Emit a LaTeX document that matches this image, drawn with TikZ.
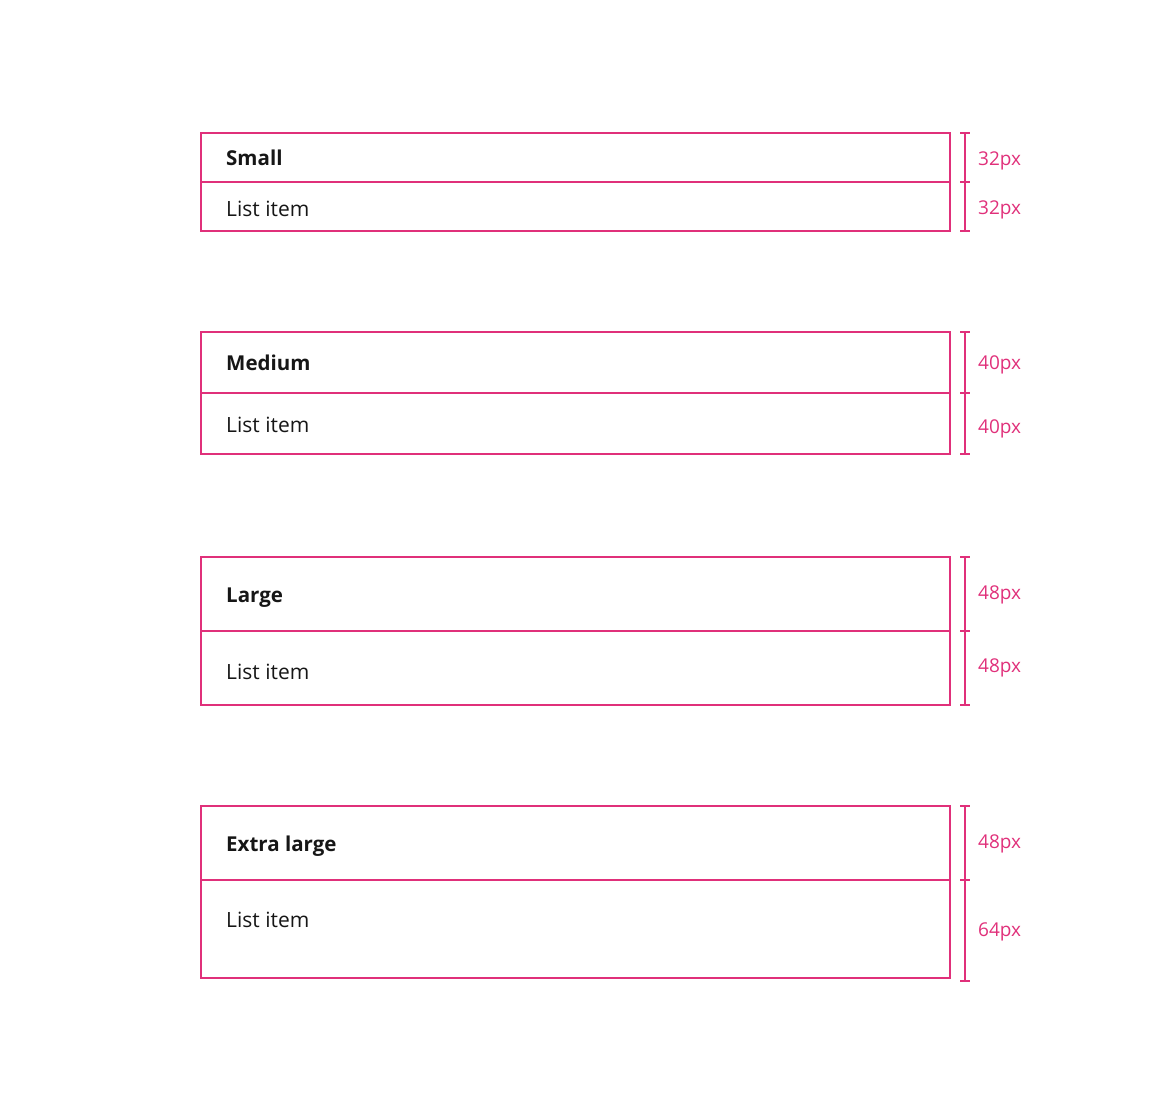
\documentclass[tikz,border=0pt]{standalone}
\usepackage{fontspec}
\setmainfont{Open Sans}
\definecolor{mag}{RGB}{224,48,122}
\definecolor{ink}{RGB}{22,22,22}
\begin{document}
\begin{tikzpicture}[x=1pt,y=-1pt,
  row/.style={draw=mag,line width=1.5pt,minimum width=749pt,inner sep=0pt,outer sep=0pt,anchor=north west},
  ttl/.style={anchor=west,font=\fontsize{20.5}{24}\selectfont\bfseries,text=ink,inner sep=0pt,yshift=-1pt},
  itm/.style={anchor=west,font=\fontsize{21}{24}\selectfont,text=ink,inner sep=0pt,yshift=-1pt},
  dim/.style={draw=mag,line width=1.5pt},
  dlab/.style={anchor=west,font=\fontsize{19}{22}\selectfont,text=mag,inner sep=0pt,yshift=-2pt}]
\useasboundingbox (0,0) rectangle (1152,1097);
% Small
\node[row,minimum height=49pt] (sa) at (201,133) {};
\node[row,minimum height=49pt] (sb) at (201,182) {};
\node[ttl] (st) at (226,157) {Small};
\node[itm] (si) at (226,208) {List item};
\coordinate (s0) at (965,133); \coordinate (s1) at (965,182); \coordinate (s2) at (965,231);
\draw[dim] (s0) -- (s2);
\foreach \p in {s0,s1,s2} \draw[dim] ([xshift=-5pt]\p) -- ([xshift=5pt]\p);
\node[dlab] (sl1) at (978,159) {32px};
\node[dlab] (sl2) at (978,208) {32px};
% Medium
\node[row,minimum height=61pt] (ma) at (201,332) {};
\node[row,minimum height=61pt] (mb) at (201,393) {};
\node[ttl] (mt) at (226,362) {Medium};
\node[itm] (mi) at (226,424) {List item};
\coordinate (m0) at (965,332); \coordinate (m1) at (965,393); \coordinate (m2) at (965,454);
\draw[dim] (m0) -- (m2);
\foreach \p in {m0,m1,m2} \draw[dim] ([xshift=-5pt]\p) -- ([xshift=5pt]\p);
\node[dlab] (ml1) at (978,363) {40px};
\node[dlab] (ml2) at (978,427) {40px};
% Large
\node[row,minimum height=74pt] (la) at (201,557) {};
\node[row,minimum height=74pt] (lb) at (201,631) {};
\node[ttl] (lt) at (226,597) {Large};
\node[itm] (li) at (226,671) {List item};
\coordinate (l0) at (965,557); \coordinate (l1) at (965,631); \coordinate (l2) at (965,705);
\draw[dim] (l0) -- (l2);
\foreach \p in {l0,l1,l2} \draw[dim] ([xshift=-5pt]\p) -- ([xshift=5pt]\p);
\node[dlab] (ll1) at (978,593) {48px};
\node[dlab] (ll2) at (978,666) {48px};
% Extra large
\node[row,minimum height=74pt] (xa) at (201,806) {};
\node[row,minimum height=98pt] (xb) at (201,880) {};
\node[ttl] (xt) at (226,845) {Extra large};
\node[itm] (xi) at (226,919) {List item};
\coordinate (x0) at (965,806); \coordinate (x1) at (965,880); \coordinate (x2) at (965,981);
\draw[dim] (x0) -- (x2);
\foreach \p in {x0,x1,x2} \draw[dim] ([xshift=-5pt]\p) -- ([xshift=5pt]\p);
\node[dlab] (xl1) at (978,842) {48px};
\node[dlab] (xl2) at (978,930) {64px};
\end{tikzpicture}
\end{document}
